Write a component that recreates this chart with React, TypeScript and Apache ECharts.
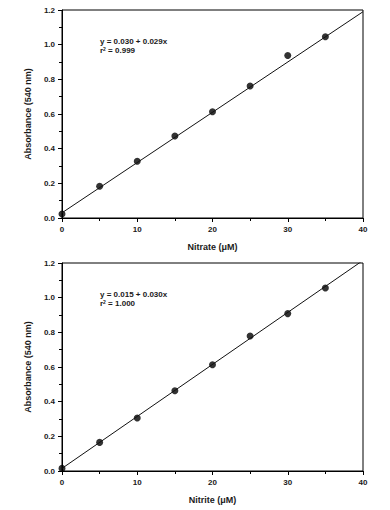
import React, { useEffect, useRef } from "react";
import * as echarts from "echarts";

const xValues = [0, 5, 10, 15, 20, 25, 30, 35];
const nitrateAbs = [0.023, 0.183, 0.327, 0.473, 0.613, 0.762, 0.937, 1.046];
const nitriteAbs = [0.015, 0.165, 0.306, 0.463, 0.613, 0.779, 0.908, 1.056];
const nitrateFit = { intercept: 0.03, slope: 0.029, r2: "0.999" };
const nitriteFit = { intercept: 0.015, slope: 0.03, r2: "1.000" };
const xRange = [0, 40];
const panelNames = ["Nitrate (μM)", "Nitrite (μM)"];

const FONT = "Liberation Sans, Arial, sans-serif";

export default function App() {
  const ref = useRef<HTMLDivElement>(null);
  useEffect(() => {
    if (!ref.current) return;
    const chart = echarts.init(ref.current, undefined, { renderer: "svg" });
    const grids = [
      { left: 62, top: 10, width: 301, height: 208 },
      { left: 62, top: 263, width: 301, height: 208 },
    ];
    const fits = [nitrateFit, nitriteFit];
    const datasets = [nitrateAbs, nitriteAbs];
    const axisCommon = {
      axisLine: { show: true, onZero: false, lineStyle: { color: "#000", width: 1 } },
      axisTick: { show: true, length: 4, lineStyle: { color: "#000" } },
      minorTick: { show: true, splitNumber: 2, length: 3, lineStyle: { color: "#000" } },
      splitLine: { show: false },
      axisLabel: { color: "#1a1a1a", fontSize: 8, fontWeight: "bold", fontFamily: FONT },
      nameTextStyle: { color: "#1a1a1a", fontSize: 9, fontWeight: "bold", fontFamily: FONT },
    };
    const series: any[] = [];
    const graphic: any[] = [];
    [0, 1].forEach((i) => {
      const f = fits[i];
      series.push({
        type: "line",
        xAxisIndex: i,
        yAxisIndex: i,
        data: xRange.map((x) => [x, f.intercept + f.slope * x]),
        showSymbol: false,
        symbol: "none",
        clip: true,
        lineStyle: { color: "#111", width: 1 },
        silent: true,
      });
      series.push({
        type: "scatter",
        xAxisIndex: i,
        yAxisIndex: i,
        data: xValues.map((x, k) => [x, datasets[i][k]]),
        symbol: "circle",
        symbolSize: 7,
        itemStyle: { color: "#000" },
        clip: false,
      });
      graphic.push({
        type: "text",
        left: 100,
        top: grids[i].top + 27,
        style: {
          text: `y = ${f.intercept.toFixed(3)} + ${f.slope.toFixed(3)}x\n{n|r}{s|2}{n| = ${f.r2}}`,
          fontSize: 8,
          fontWeight: "bold",
          fontFamily: FONT,
          fill: "#1a1a1a",
          lineHeight: 9,
          rich: {
            n: { fontSize: 8, fontWeight: "bold", fontFamily: FONT, fill: "#1a1a1a" },
            s: { fontSize: 5, fontWeight: "bold", fontFamily: FONT, fill: "#1a1a1a", verticalAlign: "top", padding: [0, 0, 3, 0] },
          },
        },
      });
    });
    chart.setOption({
      animation: false,
      grid: grids.map((g) => ({
        ...g,
        show: true,
        borderColor: "#000",
        borderWidth: 1,
        backgroundColor: "transparent",
      })),
      xAxis: [0, 1].map((i) => ({
        ...axisCommon,
        gridIndex: i,
        type: "value",
        min: 0,
        max: 40,
        interval: 10,
        name: panelNames[i],
        nameLocation: "middle",
        nameGap: 24,
        axisLabel: { ...axisCommon.axisLabel, margin: 7 },
      })),
      yAxis: [0, 1].map((i) => ({
        ...axisCommon,
        gridIndex: i,
        type: "value",
        min: 0,
        max: 1.2,
        interval: 0.2,
        name: "Absorbance (540 nm)",
        nameLocation: "middle",
        nameGap: 28,
        axisLabel: {
          ...axisCommon.axisLabel,
          margin: 7,
          formatter: (v: number) => v.toFixed(1),
        },
      })),
      series,
      graphic,
    });
    return () => chart.dispose();
  }, []);
  return (
    <div
      ref={ref}
      style={{ position: "absolute", left: 0, top: 0, width: 390, height: 510 }}
    />
  );
}
